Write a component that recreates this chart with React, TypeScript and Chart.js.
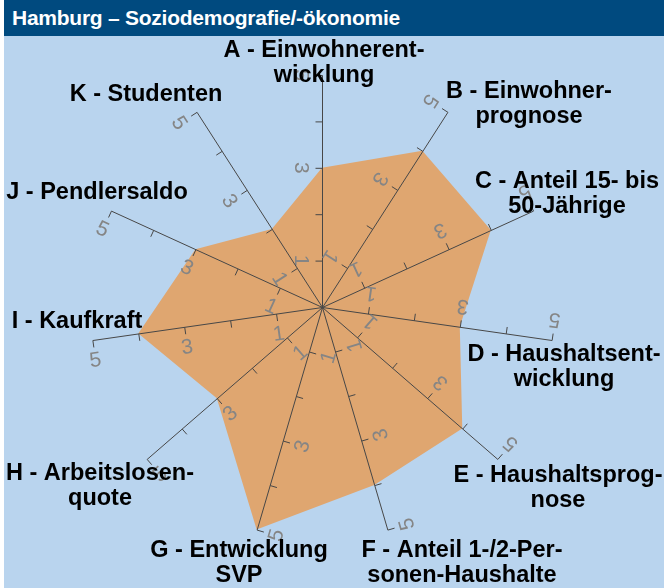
import React, { useEffect, useRef } from "react";
import { Chart, registerables } from "chart.js";

Chart.register(...registerables);

const titleText = "Hamburg – Soziodemografie/-ökonomie";

const categories: string[][] = [
  ["A - Einwohnerent-", "wicklung"],
  ["B - Einwohner-", "prognose"],
  ["C - Anteil 15- bis", "50-Jährige"],
  ["D - Haushaltsent-", "wicklung"],
  ["E - Haushaltsprog-", "nose"],
  ["F - Anteil 1-/2-Per-", "sonen-Haushalte"],
  ["G - Entwicklung", "SVP"],
  ["H - Arbeitslosen-", "quote"],
  ["I - Kaufkraft"],
  ["J - Pendlersaldo"],
  ["K - Studenten"],
];

const values: number[] = [3, 4, 4, 3, 4, 4, 5, 3, 4, 3, 2];

const tickValues: number[] = [1, 2, 3, 4, 5];
const tickLabelValues: number[] = [1, 3, 5];
const scaleMax = 5;

// label block centre offsets from the radar centre (layout only)
const labelOffsets: [number, number][] = [
  [2, -244],
  [207, -203],
  [245, -113],
  [242, 60],
  [236, 181],
  [140, 256],
  [-83, 256],
  [-222, 179],
  [-245, 15],
  [-225, -114],
  [-176, -212],
];

const FONT = '"Liberation Sans", Arial, Helvetica, sans-serif';

const axesPlugin = {
  id: "customAxes",
  afterDatasetsDraw(chart: any) {
    const s = chart.scales.r;
    const ctx = chart.ctx as CanvasRenderingContext2D;
    const n = chart.data.labels.length;
    const cx = s.xCenter;
    const cy = s.yCenter;
    ctx.save();
    ctx.strokeStyle = "#474747";
    ctx.lineWidth = 1;
    for (let i = 0; i < n; i++) {
      const a = s.getIndexAngle(i) - Math.PI / 2;
      const px = Math.sin(a);
      const py = -Math.cos(a);
      const end = s.getPointPositionForValue(i, scaleMax);
      ctx.beginPath();
      ctx.moveTo(cx + 0.5, cy + 0.5);
      ctx.lineTo(end.x + 0.5, end.y + 0.5);
      ctx.stroke();
      for (const v of tickValues) {
        const p = s.getPointPositionForValue(i, v);
        ctx.beginPath();
        ctx.moveTo(p.x + 0.5, p.y + 0.5);
        ctx.lineTo(p.x + 0.5 + 7 * px, p.y + 0.5 + 7 * py);
        ctx.stroke();
      }
      ctx.fillStyle = "#858585";
      ctx.font = `21px ${FONT}`;
      ctx.textAlign = "center";
      ctx.textBaseline = "middle";
      for (const v of tickLabelValues) {
        const p = s.getPointPositionForValue(i, v);
        ctx.save();
        ctx.translate(p.x + 20 * px, p.y + 20 * py);
        ctx.rotate(a + Math.PI);
        ctx.fillText(String(v), 0, 1);
        ctx.restore();
      }
    }
    ctx.fillStyle = "#000";
    ctx.font = `bold 23.5px ${FONT}`;
    ctx.textAlign = "center";
    ctx.textBaseline = "middle";
    const lh = 25;
    for (let i = 0; i < n; i++) {
      const lines = chart.data.labels[i] as string[];
      const [dx, dy] = labelOffsets[i];
      const x = cx + dx;
      const y0 = cy + dy - ((lines.length - 1) * lh) / 2;
      lines.forEach((t, k) => ctx.fillText(t, x, y0 + k * lh));
    }
    ctx.restore();
  },
};

export default function App() {
  const ref = useRef<HTMLCanvasElement>(null);
  useEffect(() => {
    if (!ref.current) return;
    const chart = new Chart(ref.current, {
      type: "radar",
      data: {
        labels: categories,
        datasets: [
          {
            data: values,
            backgroundColor: "rgb(223,166,112)",
            borderWidth: 0,
            pointRadius: 0,
            fill: true,
          },
        ],
      },
      options: {
        responsive: false,
        animation: false,
        layout: { padding: { left: 90, top: 75, right: 110, bottom: 49 } },
        plugins: { legend: { display: false }, tooltip: { enabled: false } },
        scales: {
          r: {
            min: 0,
            max: scaleMax,
            startAngle: 0,
            angleLines: { display: false },
            grid: { display: false },
            ticks: { display: false },
            pointLabels: { display: false },
          },
        },
      },
      plugins: [axesPlugin],
    });
    return () => chart.destroy();
  }, []);
  return (
    <div style={{ position: "absolute", left: 0, top: 0, width: 664, height: 588, background: "#fff", overflow: "hidden" }}>
      <div style={{ position: "absolute", left: 4, top: 0, width: 660, height: 36, background: "#004a7f", color: "#fff", fontFamily: FONT, fontWeight: "bold", fontSize: 21, letterSpacing: "-0.25px", lineHeight: "36px", paddingLeft: 8, boxSizing: "border-box", whiteSpace: "nowrap" }}>
        {titleText}
      </div>
      <div style={{ position: "absolute", left: 4, top: 36, width: 660, height: 552, background: "#b9d4ee" }} />
      <canvas ref={ref} width={664} height={588} style={{ position: "absolute", left: 0, top: 0 }} />
    </div>
  );
}
